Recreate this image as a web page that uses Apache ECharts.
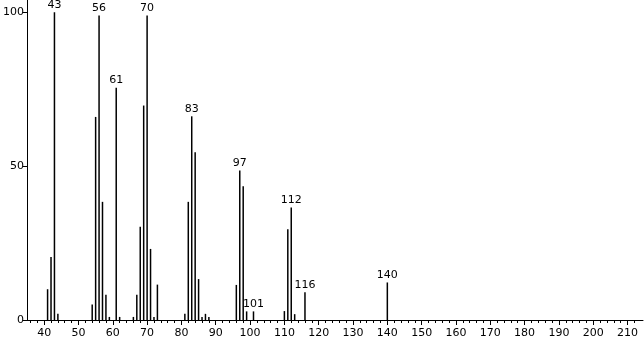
<!DOCTYPE html>
<html>
<head>
<meta charset="utf-8">
<script src="https://cdn.jsdelivr.net/npm/echarts@6/dist/echarts.min.js"></script>
<style>
html,body{margin:0;padding:0;background:#fff;}
#chart{width:644px;height:339px;}
</style>
</head>
<body>
<div id="chart"></div>
<script>
// m/z values and relative intensities
const mzValues = [41, 42, 43, 44, 54, 55, 56, 57, 58, 59, 61, 62, 66, 67, 68, 69, 70, 71, 72, 73,
  81, 82, 83, 84, 85, 86, 87, 88, 96, 97, 98, 99, 101, 110, 111, 112, 113, 116, 140];
const intensities = [10, 20.5, 100, 2, 5, 66, 99, 38.4, 8.2, 1, 75.5, 1, 1, 8.2, 30.3, 69.7, 99, 23.1, 1, 11.5,
  2, 38.4, 66.2, 54.5, 13.3, 1, 2, 1, 11.4, 48.6, 43.5, 2.8, 2.8, 2.9, 29.5, 36.6, 1.9, 9.0, 12.2];
const labeledPeaks = [43, 56, 61, 70, 83, 97, 101, 112, 116, 140];
const xTickLabels = [40, 50, 60, 70, 80, 90, 100, 110, 120, 130, 140, 150, 160, 170, 180, 190, 200, 210];
const yTickLabels = [0, 50, 100];

const minorTicks = [];
for (let v = 36; v <= 212; v += 2) minorTicks.push(v);

const FONT = 'DejaVu Sans';
const data = mzValues.map((mz, i) => {
  const item = { value: [mz, intensities[i]] };
  if (labeledPeaks.indexOf(mz) >= 0) item.label = { show: true };
  return item;
});

const chart = echarts.init(document.getElementById('chart'), null, { renderer: 'canvas' });
chart.setOption({
  animation: false,
  backgroundColor: '#ffffff',
  grid: { left: 25, right: 1, top: 0, bottom: 18, containLabel: false },
  xAxis: [{
    type: 'value', min: 35, max: 214.5,
    axisLine: { show: true, lineStyle: { color: '#000', width: 1 } },
    axisTick: { show: true, length: 5, lineStyle: { color: '#000' }, customValues: xTickLabels },
    axisLabel: { show: true, color: '#000', fontFamily: FONT, fontSize: 11, margin: 8, customValues: xTickLabels },
    splitLine: { show: false }
  }, {
    type: 'value', min: 35, max: 214.5, position: 'bottom',
    axisLine: { show: false },
    axisTick: { show: true, length: 3, lineStyle: { color: '#000' }, customValues: minorTicks },
    axisLabel: { show: false },
    splitLine: { show: false }
  }],
  yAxis: {
    type: 'value', min: 0, max: 104,
    axisLine: { show: true, lineStyle: { color: '#000', width: 1 } },
    axisTick: { show: true, length: 4, lineStyle: { color: '#000' }, customValues: yTickLabels },
    axisLabel: { show: true, color: '#000', fontFamily: FONT, fontSize: 11, margin: 3, customValues: yTickLabels },
    splitLine: { show: false }
  },
  series: [{
    type: 'bar',
    xAxisIndex: 0,
    barWidth: 1.5,
    itemStyle: { color: '#000' },
    label: {
      show: false, position: 'top', distance: 2, color: '#000',
      fontFamily: FONT, fontSize: 11,
      formatter: p => String(p.value[0])
    },
    data: data
  }]
});
</script>
</body>
</html>
